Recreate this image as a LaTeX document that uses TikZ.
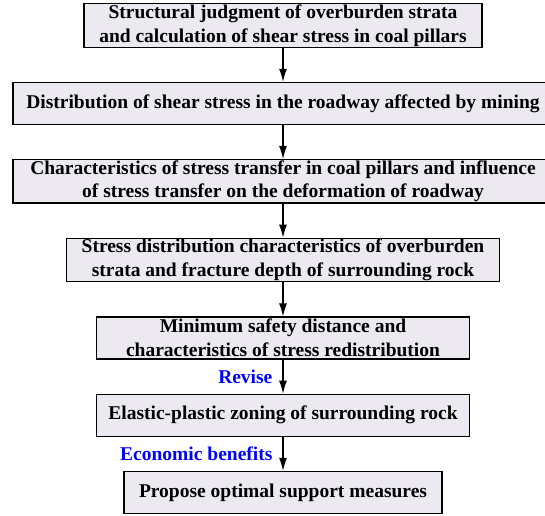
\documentclass[tikz,border=0pt]{standalone}
\usepackage{fontspec}
\setmainfont{Liberation Serif}
\usepackage{xcolor}
\usepackage{tikz}
\usetikzlibrary{positioning,arrows.meta}

\definecolor{boxfill}{RGB}{236,233,241}

\begin{document}
\begin{tikzpicture}[
  x=1pt, y=1pt,
  font=\fontsize{19.5}{23.5}\selectfont\bfseries,
  block/.style={draw, rectangle, line width=1.2pt, fill=boxfill, align=center, inner xsep=0pt, inner ysep=1pt, minimum height=42pt},
  arr/.style={-{Latex[length=13pt, width=8pt]}, line width=1.2pt},
  note/.style={text=blue, inner sep=0pt},
  node distance=34pt,
]
  \useasboundingbox (0,0) rectangle (545,-515);

  \node[block, minimum width=398pt] (judg) at (283,-25.5) {Structural judgment of overburden strata \\
    and calculation of shear stress in coal pillars};
  \node[block, minimum width=540pt, below=of judg] (shear) {Distribution of shear stress in the roadway affected by mining};
  \node[block, minimum width=540pt, below=of shear] (transfer) {Characteristics of stress transfer in coal pillars and influence \\
    of stress transfer on the deformation of roadway};
  \node[block, minimum width=433pt, below=of transfer] (frac) {Stress distribution characteristics of overburden \\
    strata and fracture depth of surrounding rock};
  \node[block, minimum width=373pt, below=of frac] (safety) {Minimum safety distance and \\
    characteristics of stress redistribution};
  \node[block, minimum width=373pt, below=of safety] (zoning) {Elastic-plastic zoning of surrounding rock};
  \node[block, minimum width=318pt, below=of zoning] (support) {Propose optimal support measures};

  % main flow, top to bottom
  \draw[arr] (judg.south) -- (shear.north);
  \draw[arr] (shear.south) -- (transfer.north);
  \draw[arr] (transfer.south) -- (frac.north);
  \draw[arr] (frac.south) -- (safety.north);
  \draw[arr] (safety.south) -- (zoning.north) node[midway, note, left=10pt] {Revise};
  \draw[arr] (zoning.south) -- (support.north) node[midway, note, left=10pt] {Economic benefits};
\end{tikzpicture}
\end{document}
